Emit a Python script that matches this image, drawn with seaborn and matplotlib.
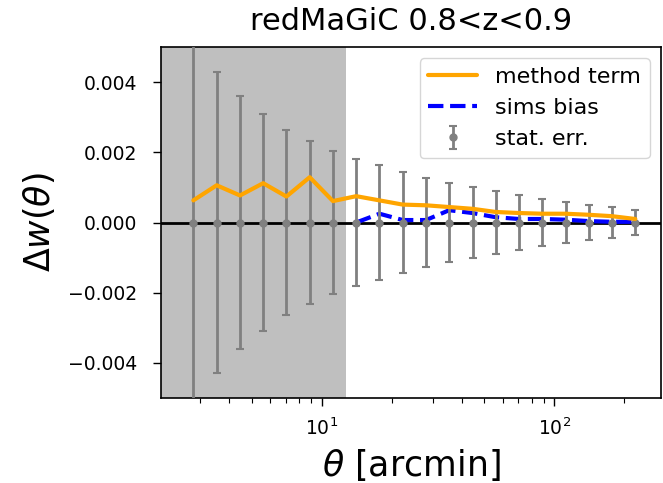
import numpy as np
import pandas as pd
import matplotlib
matplotlib.use("Agg")
import matplotlib.pyplot as plt
import seaborn as sns

sns.set_style("white")
plt.rcParams['font.family'] = ['DejaVu Sans']
plt.rcParams['mathtext.fontset'] = 'dejavusans'
plt.rcParams['text.color'] = 'black'
plt.rcParams['axes.labelcolor'] = 'black'
plt.rcParams['xtick.color'] = 'black'
plt.rcParams['ytick.color'] = 'black'

# angular bin centres [arcmin] (20 log bins 2.5-250)
theta = [2.81, 3.54, 4.46, 5.61, 7.06, 8.89, 11.19, 14.09, 17.74, 22.33,
         28.11, 35.39, 44.56, 56.09, 70.62, 88.90, 111.92, 140.90, 177.38, 223.31]
method_term = [0.00063, 0.00106, 0.00077, 0.00112, 0.00074, 0.00129, 0.00061,
               0.00075, 0.00063, 0.00051, 0.00049, 0.00044, 0.00039, 0.00030,
               0.00027, 0.00025, 0.00025, 0.00022, 0.00018, 0.00010]
sims_theta = theta[7:]
sims_bias = [0.00000, 0.00025, 0.00007, 0.00007, 0.00035, 0.00027, 0.00015,
             0.00010, 0.00010, 0.00008, 0.00004, 0.00002, 0.00002]
stat_err = [0.0060, 0.00428, 0.00359, 0.00308, 0.00264, 0.00231, 0.00205,
            0.00182, 0.00164, 0.00145, 0.00127, 0.00113, 0.00100, 0.00090,
            0.00077, 0.00068, 0.00058, 0.00049, 0.00045, 0.00035]
scale_cut = 12.7
title = "redMaGiC 0.8<z<0.9"

df_m = pd.DataFrame({"theta": theta, "val": method_term})
df_s = pd.DataFrame({"theta": sims_theta, "val": sims_bias})

fig = plt.figure(figsize=(6.63, 4.83), dpi=100)
ax = fig.add_axes([161/663, 85/483, 500/663, 351/483])
ax.set_xscale("log")
xmin, xmax = 2.04, 288
ax.axvspan(xmin, scale_cut, color="gray", alpha=0.5, lw=0, zorder=0)
ax.axhline(0, color="black", lw=2, zorder=1)

sns.lineplot(data=df_s, x="theta", y="val", ax=ax, color="blue", lw=3,
             linestyle="--", label="sims bias", zorder=2)
eb = ax.errorbar(theta, np.zeros(len(theta)), yerr=stat_err, fmt="o", color="gray",
                 ms=5, lw=2, capsize=3.2, capthick=1.5, label="stat. err.", zorder=3)
sns.lineplot(data=df_m, x="theta", y="val", ax=ax, color="orange", lw=3,
             label="method term", zorder=4)

ax.set_xlim(xmin, xmax)
ax.set_ylim(-0.005, 0.005)
ax.set_yticks([-0.004, -0.002, 0.0, 0.002, 0.004])
ax.set_yticklabels(["\u22120.004", "\u22120.002", "0.000", "0.002", "0.004"])
ax.tick_params(axis="both", which="major", labelsize=13.5, length=6, width=1, direction="out",
               bottom=True, left=True)
ax.tick_params(axis="x", which="major", pad=8)
ax.tick_params(axis="y", which="major", pad=11)
ax.tick_params(axis="x", which="minor", length=3.5, width=0.8, bottom=True)
ax.set_xlabel(r"$\theta$ [arcmin]", fontsize=25, labelpad=6)
ax.set_ylabel(r"$\Delta w(\theta)$", fontsize=25, labelpad=8)
ax.set_title(title, fontsize=22, pad=12)
for s in ax.spines.values():
    s.set_color("black")
    s.set_linewidth(1.2)

h, lab = ax.get_legend_handles_labels()
order = [lab.index("method term"), lab.index("sims bias"), lab.index("stat. err.")]
ax.legend([h[i] for i in order], [lab[i] for i in order], loc="upper right", fontsize=16,
          frameon=True, handlelength=2.2, borderaxespad=0.5)

fig.savefig("out.png", dpi=100)
